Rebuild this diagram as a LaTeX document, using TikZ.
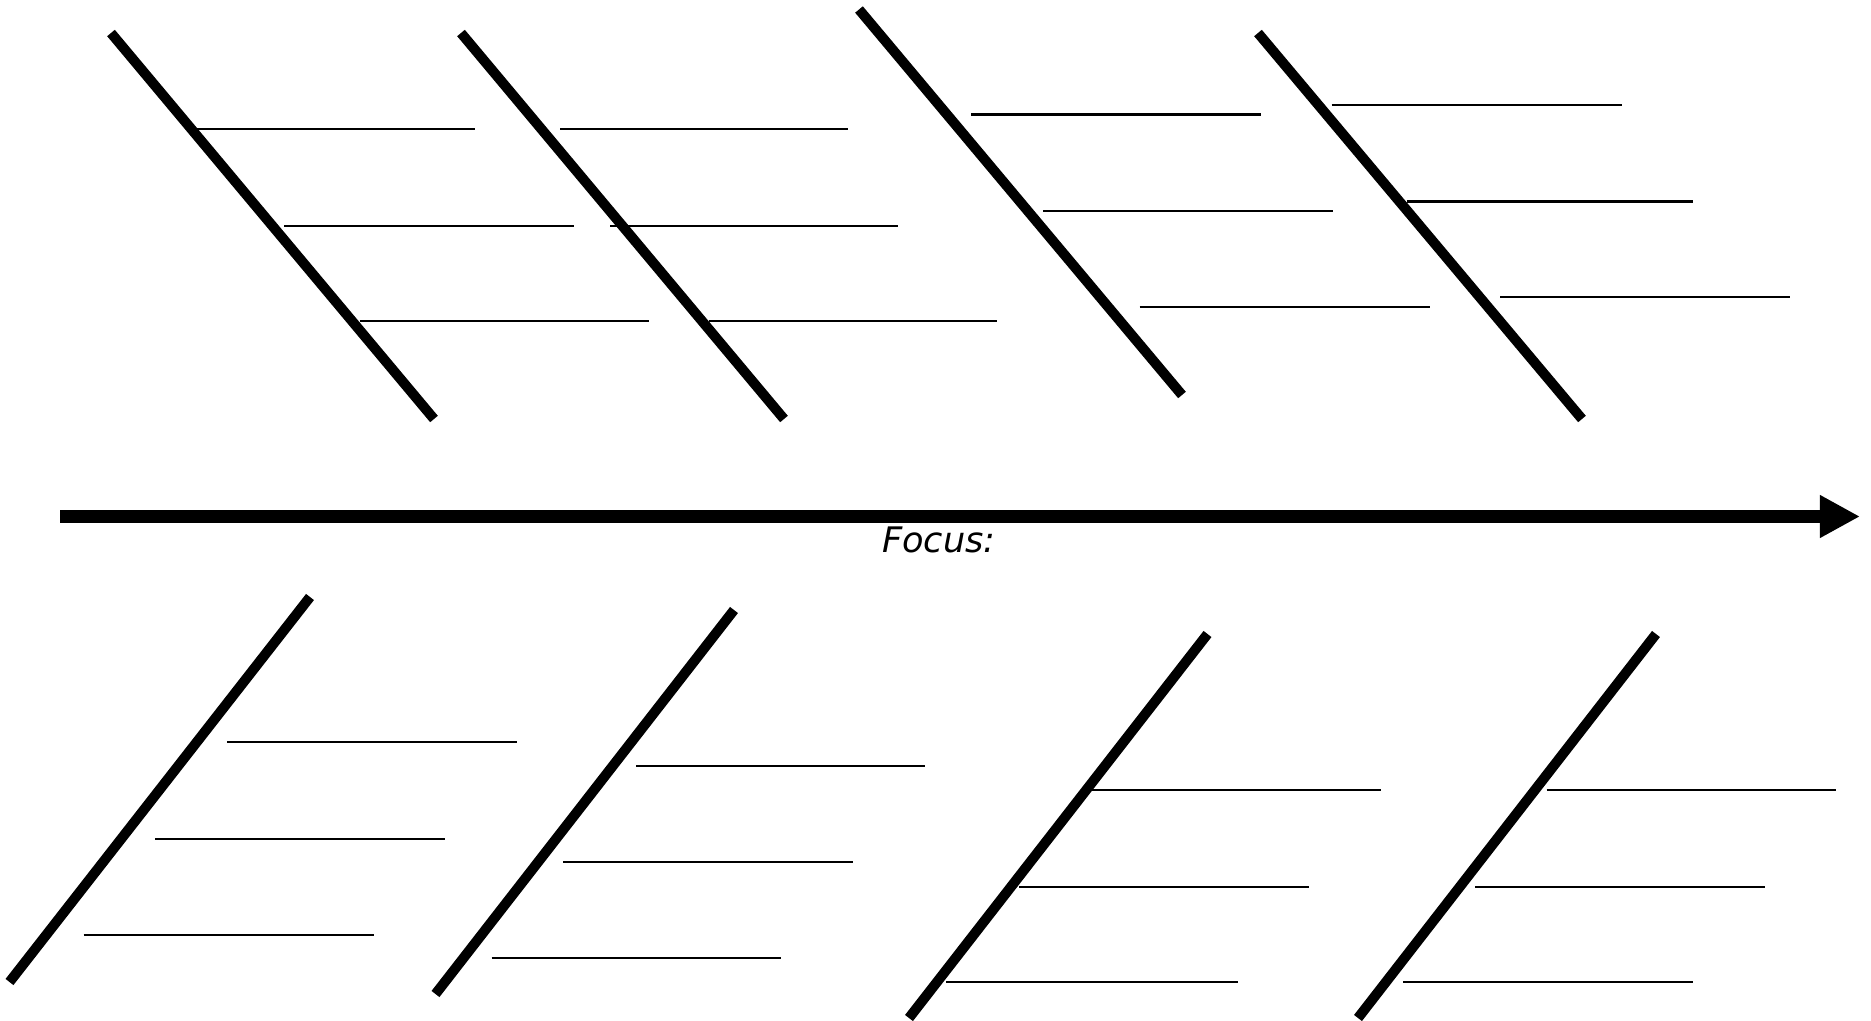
\documentclass[tikz,border=0pt]{standalone}
\usepackage{fontspec}
\newfontfamily\focusfont{DejaVu Sans}
\usetikzlibrary{arrows.meta}

\begin{document}
\begin{tikzpicture}[
    x=0.01cm, y=-0.01cm,
    bone/.style={line width=0.1cm},
    rib/.style={line width=0.02cm},
    spine/.style={line width=0.13cm, -{Triangle[length=0.4cm, width=0.4cm]}},
]
\useasboundingbox (0,0) rectangle (1871,1021);

% spine and label
\coordinate (tail) at (60,516.5);
\coordinate (head) at (1860,516.5);
\draw[spine] (tail) -- (head);
\node[font=\focusfont\fontsize{10}{12}\selectfont\itshape, anchor=base, inner sep=0pt] (focus) at (939,552) {Focus:};

% upper bones
\coordinate (u1top) at (111,33);   \coordinate (u1end) at (434,419);
\coordinate (u2top) at (461,33);   \coordinate (u2end) at (784,419);
\coordinate (u3top) at (859,9.5);  \coordinate (u3end) at (1182,395);
\coordinate (u4top) at (1258,33);  \coordinate (u4end) at (1582,419);
\foreach \b in {1,...,4}
    \draw[bone] (u\b top) -- (u\b end);

% lower bones
\coordinate (l1top) at (310,597);   \coordinate (l1end) at (9.5,982);
\coordinate (l2top) at (734,610);   \coordinate (l2end) at (435.5,994);
\coordinate (l3top) at (1207.5,634); \coordinate (l3end) at (909,1018);
\coordinate (l4top) at (1656,634);   \coordinate (l4end) at (1358,1018);
\foreach \b in {1,...,4}
    \draw[bone] (l\b top) -- (l\b end);

% ribs, upper side
\foreach \y/\xa/\xb in {129/197/475, 225.5/284/574, 321/360/649,
                        129/560/848, 225.5/610/898, 321/709/997,
                        114.5/971/1261, 211/1043/1333, 306.5/1139.5/1429.5,
                        105/1331.5/1621.5, 201.5/1407/1693, 297/1500/1790}
    \draw[rib] (\xa,\y) -- (\xb,\y);

% ribs, lower side
\foreach \y/\xa/\xb in {742/227/517, 839/155/445, 934.5/83.5/373.5,
                        766/636/925, 861.5/563/853, 958/491.5/780.5,
                        790/1092/1380.5, 886.5/1019/1309, 982/946/1237.5,
                        790/1546.5/1836, 886.5/1475/1765, 982/1403/1693}
    \draw[rib] (\xa,\y) -- (\xb,\y);
\end{tikzpicture}
\end{document}
